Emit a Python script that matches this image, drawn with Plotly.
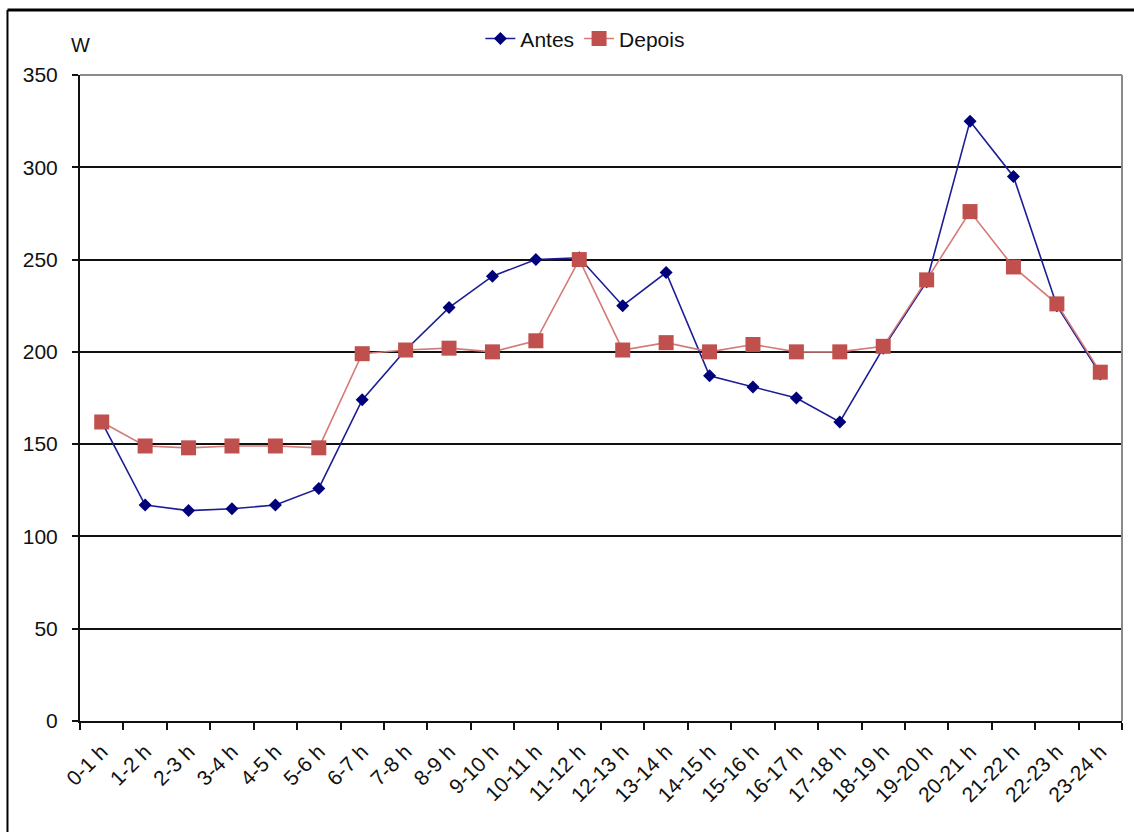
import plotly.graph_objects as go

# Hourly load profile (W), before and after
hours = ["0-1 h", "1-2 h", "2-3 h", "3-4 h", "4-5 h", "5-6 h", "6-7 h", "7-8 h",
         "8-9 h", "9-10 h", "10-11 h", "11-12 h", "12-13 h", "13-14 h", "14-15 h",
         "15-16 h", "16-17 h", "17-18 h", "18-19 h", "19-20 h", "20-21 h", "21-22 h",
         "22-23 h", "23-24 h"]

antes = [162, 117, 114, 115, 117, 126, 174, 201, 224, 241, 250, 251, 225, 243,
         187, 181, 175, 162, 202, 238, 325, 295, 225, 188]

depois = [162, 149, 148, 149, 149, 148, 199, 201, 202, 200, 206, 250, 201, 205,
          200, 204, 200, 200, 203, 239, 276, 246, 226, 189]

y_ticks = [0, 50, 100, 150, 200, 250, 300, 350]

FONT = "Liberation Sans, Arial, sans-serif"

fig = go.Figure()

fig.add_trace(go.Scatter(
    x=hours, y=antes, name="Antes", mode="lines+markers",
    line=dict(color="#1c1c96", width=1.6),
    marker=dict(symbol="diamond", size=10, color="#00007a"),
))

fig.add_trace(go.Scatter(
    x=hours, y=depois, name="Depois", mode="lines+markers",
    line=dict(color="#d47a78", width=1.6),
    marker=dict(symbol="square", size=15, color="#c0504d"),
))

fig.update_layout(
    width=1134, height=832,
    margin=dict(l=80, r=12, t=75, b=111, autoexpand=False),
    paper_bgcolor="white", plot_bgcolor="white",
    font=dict(family=FONT, size=20, color="#111111"),
    showlegend=True,
    legend=dict(orientation="h", x=0.485, xanchor="center", y=1.056, yanchor="middle",
                font=dict(size=21), itemwidth=30, tracegroupgap=0,
                bgcolor="rgba(0,0,0,0)"),
    xaxis=dict(
        type="category", range=[-0.5, 23.5], tickson="boundaries",
        ticks="outside", ticklen=7, tickwidth=2, tickcolor="#111111",
        tickangle=-45, tickfont=dict(size=21), ticklabelstandoff=8,
        showline=True, linecolor="#111111", linewidth=2,
        showgrid=False, zeroline=False, automargin=False,
    ),
    yaxis=dict(
        range=[0, 350], tickvals=y_ticks, ticks="outside", ticklen=6, tickwidth=2,
        tickcolor="#111111", tickfont=dict(size=21), ticklabelstandoff=10,
        showline=True, linecolor="#111111", linewidth=2,
        showgrid=True, gridcolor="#111111", gridwidth=2,
        zeroline=False, automargin=False,
    ),
    annotations=[
        dict(text="W", xref="paper", yref="paper", x=-0.0105, y=1.046,
             xanchor="left", yanchor="middle", showarrow=False,
             font=dict(size=20, color="#111111")),
    ],
    shapes=[
        # plot area border (top and right)
        dict(type="line", xref="paper", yref="paper", x0=0, x1=1, y0=1, y1=1,
             line=dict(color="#8a8a8a", width=2), layer="above"),
        dict(type="line", xref="paper", yref="paper", x0=1, x1=1, y0=0, y1=1,
             line=dict(color="#8a8a8a", width=2), layer="above"),
        # outer chart frame
        dict(type="line", xref="paper", yref="paper", x0=-0.0696, x1=-0.0696,
             y0=-0.2, y1=1.1006, line=dict(color="#000000", width=2)),
        dict(type="line", xref="paper", yref="paper", x0=-0.0696, x1=1.02,
             y0=1.1006, y1=1.1006, line=dict(color="#000000", width=3)),
    ],
)

fig.write_html("out.html")
